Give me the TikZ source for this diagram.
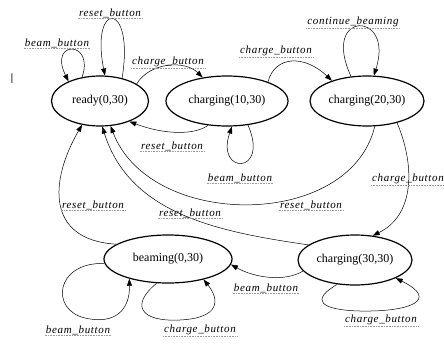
\documentclass[tikz,border=0pt]{standalone}
\usepackage{fontspec}
\setmainfont{Liberation Serif}
\usetikzlibrary{shapes.geometric,arrows.meta}
\begin{document}
\begin{tikzpicture}[x=1pt,y=-1pt,
  state/.style={draw, ellipse, line width=1.2pt, inner sep=0pt, font=\fontsize{12}{14}\selectfont},
  lbl/.style={font=\fontsize{11}{13}\selectfont\itshape\addfontfeature{LetterSpace=6}, inner sep=1pt,
    append after command={(\tikzlastnode.south west) edge[densely dotted, gray!80, line width=0.6pt] (\tikzlastnode.south east)}},
  tr/.style={draw, line width=0.5pt, -{Triangle[length=7pt,width=5pt]}}
]
\useasboundingbox (0,0) rectangle (444,343);

\node[font=\sffamily\fontsize{14}{14}\selectfont, text=gray!70!black, inner sep=0pt] (cursor) at (12,79) {I};

\node[state, minimum width=97pt, minimum height=50pt] (ready) at (100,101) {ready(0,30)};
\node[state, minimum width=122pt, minimum height=50pt] (c10) at (227,101) {charging(10,30)};
\node[state, minimum width=114pt, minimum height=50pt] (c20) at (367,101) {charging(20,30)};
\node[state, minimum width=128pt, minimum height=48pt] (beam) at (168,259) {beaming(0,30)};
\node[state, minimum width=114pt, minimum height=50pt] (c30) at (355,260) {charging(30,30)};

% edges
\draw[tr] (ready.127) .. controls (95,40) and (48,40) .. (ready.148);
\draw[tr] (ready.46) .. controls (135,0) and (90,0) .. (ready.79);
\draw[tr] (ready.25) .. controls (150,62) and (185,60) .. (c10.136);
\draw[tr] (c10.25) .. controls (275,55) and (305,55) .. (c20.150);
\draw[tr] (c20.123) .. controls (320,10) and (395,10) .. (c20.75);
\draw[tr] (c10.232) .. controls (195,135) and (165,135) .. (ready.325);
\draw[tr] (c10.311) .. controls (270,175) and (215,175) .. (c10.281);
\draw[tr] (c20.287) .. controls (350,230) and (150,230) .. (ready.293);
\draw[tr] (c30.162) .. controls (220,232) and (130,215) .. (ready.275);
\draw[tr] (beam.164) .. controls (45,240) and (50,180) .. (ready.233);
\draw[tr] (c20.324) .. controls (415,165) and (415,215) .. (c30.54);
\draw[tr] (c30.192) .. controls (285,282) and (255,278) .. (beam.355);
\draw[tr] (c30.234) .. controls (310,300) and (320,310) .. (360,311) .. controls (410,312) and (440,300) .. (c30.336);
\draw[tr] (beam.184) .. controls (55,262) and (50,310) .. (85,318) .. controls (115,325) and (130,310) .. (beam.207);
\draw[tr] (beam.245) .. controls (130,305) and (140,322) .. (180,320) .. controls (220,318) and (220,300) .. (beam.330);

% labels
\node[lbl] (l1) at (57,43) {beam\_button};
\node[lbl] (l2) at (110,13) {reset\_button};
\node[lbl] (l3) at (168,62) {charge\_button};
\node[lbl] (l4) at (276,51) {charge\_button};
\node[lbl] (l5) at (353,22) {continue\_beaming};
\node[lbl] (l6) at (172,146) {reset\_button};
\node[lbl] (l7) at (240,178) {beam\_button};
\node[lbl] (l8) at (408,179) {charge\_button};
\node[lbl] (l9) at (93,205) {reset\_button};
\node[lbl] (l10) at (190,213) {reset\_button};
\node[lbl] (l11) at (311,205) {reset\_button};
\node[lbl] (l12) at (266,288) {beam\_button};
\node[lbl] (l13) at (381,320) {charge\_button};
\node[lbl] (l14) at (78,330) {beam\_button};
\node[lbl] (l15) at (200,330) {charge\_button};
\end{tikzpicture}
\end{document}
